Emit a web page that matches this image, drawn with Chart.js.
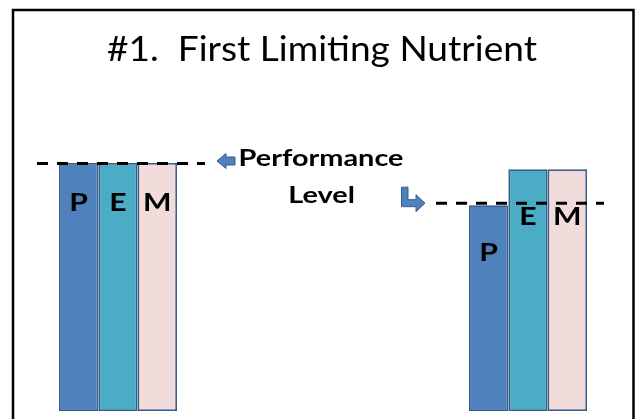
<!DOCTYPE html>
<html>
<head>
<meta charset="utf-8">
<script src="https://cdn.jsdelivr.net/npm/chart.js@4/dist/chart.umd.min.js"></script>
<style>
  html, body { margin: 0; padding: 0; background: #ffffff; }
  canvas { display: block; }
</style>
</head>
<body>
<canvas id="chart" width="639" height="419"></canvas>
<script>
// Rations compared, and the three nutrients supplied by each
const categories = ['Balanced ration', 'Protein limited'];
const nutrients = ['P', 'E', 'M'];
const pValues = [100, 83];
const eValues = [100, 97.5];
const mValues = [100, 97.5];
// Performance level reached by each ration
const performanceLevel = [100, 84];

const titleText = '#1.  First Limiting Nutrient';
const noteLines = ['Performance', 'Level'];

const FONT = 'Lato, "Open Sans", "Liberation Sans", sans-serif';
const BLUE = '#4f81bd';
const BLUE_EDGE = '#385d8a';

// Draw text horizontally scaled so it spans a given width (or by a given factor)
function measure(ctx, text, font) {
  ctx.save();
  ctx.font = font;
  const w = ctx.measureText(text).width;
  ctx.restore();
  return w;
}
function drawText(ctx, text, x, y, font, sx) {
  ctx.save();
  ctx.font = font;
  ctx.fillStyle = '#000000';
  ctx.textAlign = 'center';
  ctx.textBaseline = 'alphabetic';
  ctx.translate(x, y);
  ctx.scale(sx, 1);
  ctx.fillText(text, 0, 0);
  ctx.restore();
}

function leftArrow(ctx, tx, ty) {
  ctx.beginPath();
  ctx.moveTo(tx, ty);
  ctx.lineTo(tx + 9, ty - 7.5);
  ctx.lineTo(tx + 9, ty - 4);
  ctx.lineTo(tx + 18, ty - 4);
  ctx.lineTo(tx + 18, ty + 4);
  ctx.lineTo(tx + 9, ty + 4);
  ctx.lineTo(tx + 9, ty + 7.5);
  ctx.closePath();
  ctx.fillStyle = BLUE;
  ctx.fill();
  ctx.lineWidth = 1;
  ctx.strokeStyle = BLUE_EDGE;
  ctx.stroke();
}

function bentArrow(ctx, tx, ty) {
  ctx.beginPath();
  ctx.moveTo(tx, ty);
  ctx.lineTo(tx - 9, ty - 8.5);
  ctx.lineTo(tx - 9, ty - 3.5);
  ctx.lineTo(tx - 17, ty - 3.5);
  ctx.lineTo(tx - 17, ty - 16);
  ctx.lineTo(tx - 23.5, ty - 16);
  ctx.lineTo(tx - 23.5, ty + 3.5);
  ctx.lineTo(tx - 9, ty + 3.5);
  ctx.lineTo(tx - 9, ty + 8.5);
  ctx.closePath();
  ctx.fillStyle = BLUE;
  ctx.fill();
  ctx.lineWidth = 1;
  ctx.strokeStyle = BLUE_EDGE;
  ctx.stroke();
}

const annotations = {
  id: 'annotations',
  afterDraw(chart) {
    const ctx = chart.ctx;
    const y = chart.scales.y;
    const metas = nutrients.map((_, i) => chart.getDatasetMeta(i));

    // Slide frame (open at the bottom)
    ctx.save();
    ctx.strokeStyle = '#000000';
    ctx.lineWidth = 2.5;
    ctx.beginPath();
    ctx.moveTo(13, 419);
    ctx.lineTo(13, 10);
    ctx.lineTo(633.5, 10);
    ctx.lineTo(633.5, 419);
    ctx.stroke();
    ctx.restore();

    // Title
    const titleFont = '34px ' + FONT;
    const titleSx = 430 / measure(ctx, titleText, titleFont);
    drawText(ctx, titleText, 322, 61, titleFont, titleSx);

    const boldFont = 'bold 23px ' + FONT;
    const boldSx = 165 / measure(ctx, noteLines[0], boldFont);

    // Nutrient letters inside each bar
    const letterFont = 'bold 24px ' + FONT;
    const letterDrop = [48, 56];
    metas.forEach((meta, i) => {
      meta.data.forEach((bar, j) => {
        drawText(ctx, nutrients[i], bar.x, bar.y + letterDrop[j], letterFont, boldSx);
      });
    });

    // Dashed performance level over each group
    const reach = [[22, 28], [33, 17]];
    const lineEnds = [];
    categories.forEach((_, j) => {
      const first = metas[0].data[j];
      const last = metas[metas.length - 1].data[j];
      const x0 = first.x - first.width / 2 - reach[j][0];
      const x1 = last.x + last.width / 2 + reach[j][1];
      const py = y.getPixelForValue(performanceLevel[j]) + 0.5;
      lineEnds.push({ x0, x1, py });
      ctx.save();
      ctx.strokeStyle = '#000000';
      ctx.lineWidth = 3;
      ctx.setLineDash([11, 9]);
      ctx.beginPath();
      ctx.moveTo(x0, py);
      ctx.lineTo(x1, py);
      ctx.stroke();
      ctx.restore();
    });

    // Callout text and its arrows
    leftArrow(ctx, lineEnds[0].x1 + 12, lineEnds[0].py - 2.5);
    bentArrow(ctx, lineEnds[1].x0 - 11, lineEnds[1].py);
    drawText(ctx, noteLines[0], 321, 166, boldFont, boldSx);
    drawText(ctx, noteLines[1], 321.5, 203, boldFont, boldSx);
  }
};

const barStyle = { borderColor: BLUE_EDGE, borderWidth: 1.75, borderSkipped: false, clip: false };

new Chart(document.getElementById('chart'), {
  type: 'bar',
  data: {
    labels: categories,
    datasets: [
      Object.assign({ label: nutrients[0], data: pValues, backgroundColor: '#4f81bd' }, barStyle),
      Object.assign({ label: nutrients[1], data: eValues, backgroundColor: '#4bacc6' }, barStyle),
      Object.assign({ label: nutrients[2], data: mValues, backgroundColor: '#f2dcdb' }, barStyle)
    ]
  },
  options: {
    responsive: false,
    devicePixelRatio: 1,
    animation: false,
    categoryPercentage: 0.2878,
    barPercentage: 1,
    layout: { padding: { left: 118, right: 111, top: 163, bottom: 8 } },
    scales: {
      x: { type: 'category', offset: false, display: false },
      y: { min: 0, max: 100, display: false }
    },
    plugins: {
      legend: { display: false },
      title: { display: false },
      tooltip: { enabled: false }
    }
  },
  plugins: [annotations]
});
</script>
</body>
</html>
